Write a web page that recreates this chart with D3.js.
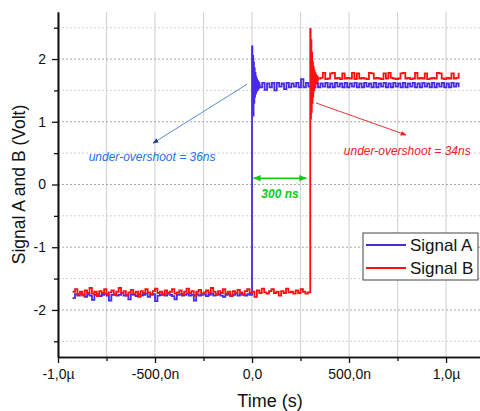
<!DOCTYPE html>
<html>
<head>
<meta charset="utf-8">
<script src="https://cdn.jsdelivr.net/npm/d3@7"></script>
<style>
  body { margin: 0; background: #fff; }
  svg { font-family: "Liberation Sans", Arial, sans-serif; }
</style>
</head>
<body>
<div id="chart"></div>
<script>
// tick values and labels
var xMajor = [-1000, -500, 0, 500, 1000];
var xLabels = ["-1,0\u00b5", "-500,0n", "0,0", "500,0n", "1,0\u00b5"];
var xMinor = [-750, -250, 250, 750];
var yMajor = [-2, -1, 0, 1, 2];
var yLabels = ["-2", "-1", "0", "1", "2"];
var yMinor = [-2.5, -1.5, -0.5, 0.5, 1.5, 2.5];

// Signal A (ns / volt), three record pieces: low level, ringing, high level
var aLowStart = -925, aLowStep = 12.5;
var aLow = [-1.81,-1.75,-1.77,-1.74,-1.76,-1.79,-1.75,-1.77,-1.84,-1.76,-1.75,-1.78,-1.76,-1.74,-1.77,-1.85,-1.76,-1.75,-1.77,-1.76,
  -1.73,-1.77,-1.76,-1.83,-1.75,-1.76,-1.78,-1.75,-1.77,-1.76,-1.74,-1.79,-1.76,-1.75,-1.86,-1.77,-1.76,-1.75,-1.77,-1.74,
  -1.76,-1.78,-1.83,-1.76,-1.75,-1.77,-1.76,-1.74,-1.77,-1.76,-1.85,-1.75,-1.77,-1.76,-1.75,-1.78,-1.76,-1.74,-1.77,-1.76,
  -1.75,-1.77,-1.79,-1.76,-1.75,-1.77,-1.76,-1.74,-1.77,-1.75,-1.76,-1.77,-1.75,-1.76,-1.76];
var aRingStart = 0, aRingStep = 2;
var aRing = [2.2, 1.2, 2.05, 1.1, 1.95, 1.3, 1.85, 1.4, 1.78, 1.45, 1.72, 1.48, 1.68, 1.5, 1.65, 1.52, 1.63, 1.54, 1.62, 1.55, 1.6];
var aHighStart = 40, aHighStep = 12.5;
var aHigh = [1.55,1.62,1.51,1.61,1.55,1.62,1.50,1.62,1.56,1.61,1.52,1.62,1.55,1.61,1.56,1.62,1.55,1.68,1.55,1.62,
  1.56,1.61,1.55,1.62,1.55,1.61,1.56,1.62,1.55,1.61,1.55,1.62,1.56,1.61,1.55,1.62,1.55,1.61,1.56,1.62,
  1.55,1.61,1.55,1.62,1.56,1.61,1.55,1.62,1.55,1.61,1.56,1.62,1.55,1.61,1.55,1.62,1.56,1.61,1.55,1.62,
  1.55,1.61,1.56,1.62,1.55,1.61,1.55,1.62,1.56,1.61,1.55,1.62,1.55,1.61,1.56,1.62,1.55,1.61,1.55,1.62,
  1.56,1.61,1.55];

// Signal B
var bLowStart = -925, bLowStep = 12.5;
var bLow = [-1.71,-1.67,-1.75,-1.71,-1.77,-1.69,-1.73,-1.65,-1.74,-1.71,-1.78,-1.70,-1.73,-1.67,-1.75,-1.72,-1.69,-1.76,-1.71,-1.65,
  -1.73,-1.70,-1.77,-1.72,-1.68,-1.74,-1.71,-1.79,-1.70,-1.73,-1.67,-1.72,-1.75,-1.70,-1.66,-1.73,-1.71,-1.76,-1.69,-1.73,
  -1.71,-1.67,-1.74,-1.72,-1.69,-1.75,-1.71,-1.66,-1.73,-1.70,-1.77,-1.71,-1.68,-1.74,-1.72,-1.69,-1.73,-1.65,-1.71,-1.75,
  -1.70,-1.73,-1.67,-1.74,-1.71,-1.78,-1.70,-1.73,-1.68,-1.72,-1.75,-1.70,-1.67,-1.73,-1.71,-1.79,-1.69,-1.73,-1.66,-1.72,
  -1.74,-1.70,-1.67,-1.73,-1.71,-1.77,-1.70,-1.73,-1.66,-1.72,-1.71,-1.74,-1.69,-1.73,-1.67,-1.71,-1.74,-1.72,-1.73];
var bRingStart = 300, bRingStep = 2;
var bRing = [2.48, 1.05, 2.3, 1.15, 2.1, 1.3, 1.95, 1.4, 1.88, 1.5, 1.82, 1.55, 1.78, 1.6, 1.75, 1.62, 1.73, 1.64, 1.72, 1.66, 1.7];
var bHighStart = 340, bHighStep = 12.5;
var bHigh = [1.69,1.70,1.78,1.68,1.69,1.77,1.78,1.69,1.70,1.68,1.77,1.69,1.70,1.69,1.78,1.68,1.77,1.69,1.70,1.69,
  1.68,1.78,1.77,1.69,1.70,1.69,1.68,1.77,1.69,1.78,1.70,1.69,1.68,1.69,1.77,1.78,1.69,1.70,1.68,1.69,
  1.78,1.69,1.70,1.69,1.77,1.68,1.69,1.70,1.69,1.78,1.77,1.69,1.68,1.70,1.69,1.77,1.69,1.70,1.78];

var seriesNames = ["Signal A", "Signal B"];
var seriesColors = ["#4a2ae6", "#ff1010"];

// annotations (data coords: ns, volt)
var notes = [
  {text: "under-overshoot = 36ns", color: "#1f6fe8", from: [-25, 1.6], to: [-510, 0.66], at: [-515, 0.44], line: "#5b8ccc", head: "arA"},
  {text: "under-overshoot = 34ns", color: "#ee2222", from: [330, 1.3], to: [794, 0.79], at: [800, 0.54], line: "#ee3333", head: "arB"}
];
var gap = {text: "300 ns", from: 8, to: 280, v: 0.1, at: [144, -0.15], color: "#11cc11"};

var margin = {top: 12, right: 0, bottom: 54, left: 58},
    width = 480 - margin.left - margin.right,
    height = 411 - margin.top - margin.bottom;

var x = d3.scaleLinear().domain([-1000, 1175]).range([0, width]);
var y = d3.scaleLinear().domain([-2.75, 2.75]).range([height, 0]);

function piece(start, step, vals) {
  return vals.map(function(v, i) { return {t: start + i * step, v: v}; });
}
var dataA = piece(aLowStart, aLowStep, aLow)
  .concat(piece(aRingStart, aRingStep, aRing))
  .concat(piece(aHighStart, aHighStep, aHigh));
var dataB = piece(bLowStart, bLowStep, bLow)
  .concat(piece(bRingStart, bRingStep, bRing))
  .concat(piece(bHighStart, bHighStep, bHigh));

var svg = d3.select("#chart").append("svg")
    .attr("width", 480)
    .attr("height", 411);

var defs = svg.append("defs");
function marker(id, color) {
  defs.append("marker")
      .attr("id", id)
      .attr("viewBox", "0 0 10 10")
      .attr("refX", 9).attr("refY", 5)
      .attr("markerWidth", 6).attr("markerHeight", 6)
      .attr("orient", "auto-start-reverse")
    .append("path")
      .attr("d", "M0,1L10,5L0,9Z")
      .attr("fill", color);
}
marker("arA", "#1d3f9a");
marker("arB", "#ee2222");
marker("arG", "#11cc11");

var g = svg.append("g")
    .attr("transform", "translate(" + margin.left + "," + margin.top + ")");

// grid
g.selectAll(".vgrid")
    .data(xMajor.concat(xMinor))
  .enter().append("line")
    .attr("x1", function(d) { return x(d); })
    .attr("x2", function(d) { return x(d); })
    .attr("y1", 0).attr("y2", height)
    .attr("stroke", "#d6d6d6").attr("stroke-width", 1.2);
g.selectAll(".hgrid")
    .data(yMajor.concat(yMinor))
  .enter().append("line")
    .attr("x1", 0).attr("x2", width)
    .attr("y1", function(d) { return y(d); })
    .attr("y2", function(d) { return y(d); })
    .attr("stroke", function(d) { return yMajor.indexOf(d) >= 0 ? "#aaaaaa" : "#d2d2d2"; })
    .attr("stroke-dasharray", "2,2");

// signals
var line = d3.line()
    .x(function(d) { return x(d.t); })
    .y(function(d) { return y(d.v); })
    .curve(d3.curveStepAfter);

[dataA, dataB].forEach(function(data, i) {
  g.append("path")
      .datum(data)
      .attr("fill", "none")
      .attr("stroke", seriesColors[i])
      .attr("stroke-width", 1.8)
      .attr("d", line);
});

// axes
g.append("g")
    .attr("transform", "translate(0," + height + ")")
    .call(d3.axisBottom(x).tickValues(xMajor)
      .tickFormat(function(d, i) { return xLabels[i]; })
      .tickSize(6).tickSizeOuter(0).tickPadding(6));
g.append("g")
    .attr("transform", "translate(0," + height + ")")
    .call(d3.axisBottom(x).tickValues(xMinor).tickFormat("").tickSize(4).tickSizeOuter(0));
g.append("g")
    .call(d3.axisLeft(y).tickValues(yMajor)
      .tickFormat(function(d, i) { return yLabels[i]; })
      .tickSize(6).tickSizeOuter(0).tickPadding(6));
g.append("g")
    .call(d3.axisLeft(y).tickValues(yMinor).tickFormat("").tickSize(4).tickSizeOuter(0));

g.selectAll(".domain").attr("stroke", "#111").attr("stroke-width", 1.6);
g.selectAll(".tick line").attr("stroke", "#111").attr("stroke-width", 1.3);
g.selectAll(".tick text").attr("fill", "#111").style("font-size", "14px");

// axis titles
svg.append("text")
    .attr("x", 270).attr("y", 407)
    .attr("text-anchor", "middle")
    .style("font-size", "18px").attr("fill", "#111")
    .text("Time (s)");
svg.append("text")
    .attr("transform", "translate(25," + (margin.top + y(0)) + ") rotate(-90)")
    .attr("text-anchor", "middle")
    .style("font-size", "17.5px").attr("fill", "#111")
    .text("Signal A and B (Volt)");

// annotations
notes.forEach(function(n) {
  g.append("line")
      .attr("x1", x(n.from[0])).attr("y1", y(n.from[1]))
      .attr("x2", x(n.to[0])).attr("y2", y(n.to[1]))
      .attr("stroke", n.line).attr("stroke-width", 1)
      .attr("marker-end", "url(#" + n.head + ")");
  g.append("text")
      .attr("x", x(n.at[0])).attr("y", y(n.at[1]))
      .attr("text-anchor", "middle")
      .attr("dy", "0.35em")
      .style("font-size", "12px").style("font-style", "italic")
      .attr("fill", n.color)
      .text(n.text);
});
g.append("line")
    .attr("x1", x(gap.from)).attr("x2", x(gap.to))
    .attr("y1", y(gap.v)).attr("y2", y(gap.v))
    .attr("stroke", gap.color).attr("stroke-width", 1.3)
    .attr("marker-start", "url(#arG)")
    .attr("marker-end", "url(#arG)");
g.append("text")
    .attr("x", x(gap.at[0])).attr("y", y(gap.at[1]))
    .attr("text-anchor", "middle").attr("dy", "0.35em")
    .style("font-size", "12px").style("font-style", "italic").style("font-weight", "bold")
    .attr("fill", gap.color)
    .text(gap.text);

// legend
var legend = svg.append("g").attr("transform", "translate(363,233)");
legend.append("rect")
    .attr("width", 115).attr("height", 47)
    .attr("fill", "#fff").attr("stroke", "#444").attr("stroke-width", 1);
seriesNames.forEach(function(name, i) {
  legend.append("line")
      .attr("x1", 3).attr("x2", 43)
      .attr("y1", 12 + i * 23).attr("y2", 12 + i * 23)
      .attr("stroke", seriesColors[i]).attr("stroke-width", 2);
  legend.append("text")
      .attr("x", 47).attr("y", 12 + i * 23)
      .attr("dy", "0.36em")
      .style("font-size", "17px").attr("fill", "#111")
      .text(name);
});
</script>
</body>
</html>
